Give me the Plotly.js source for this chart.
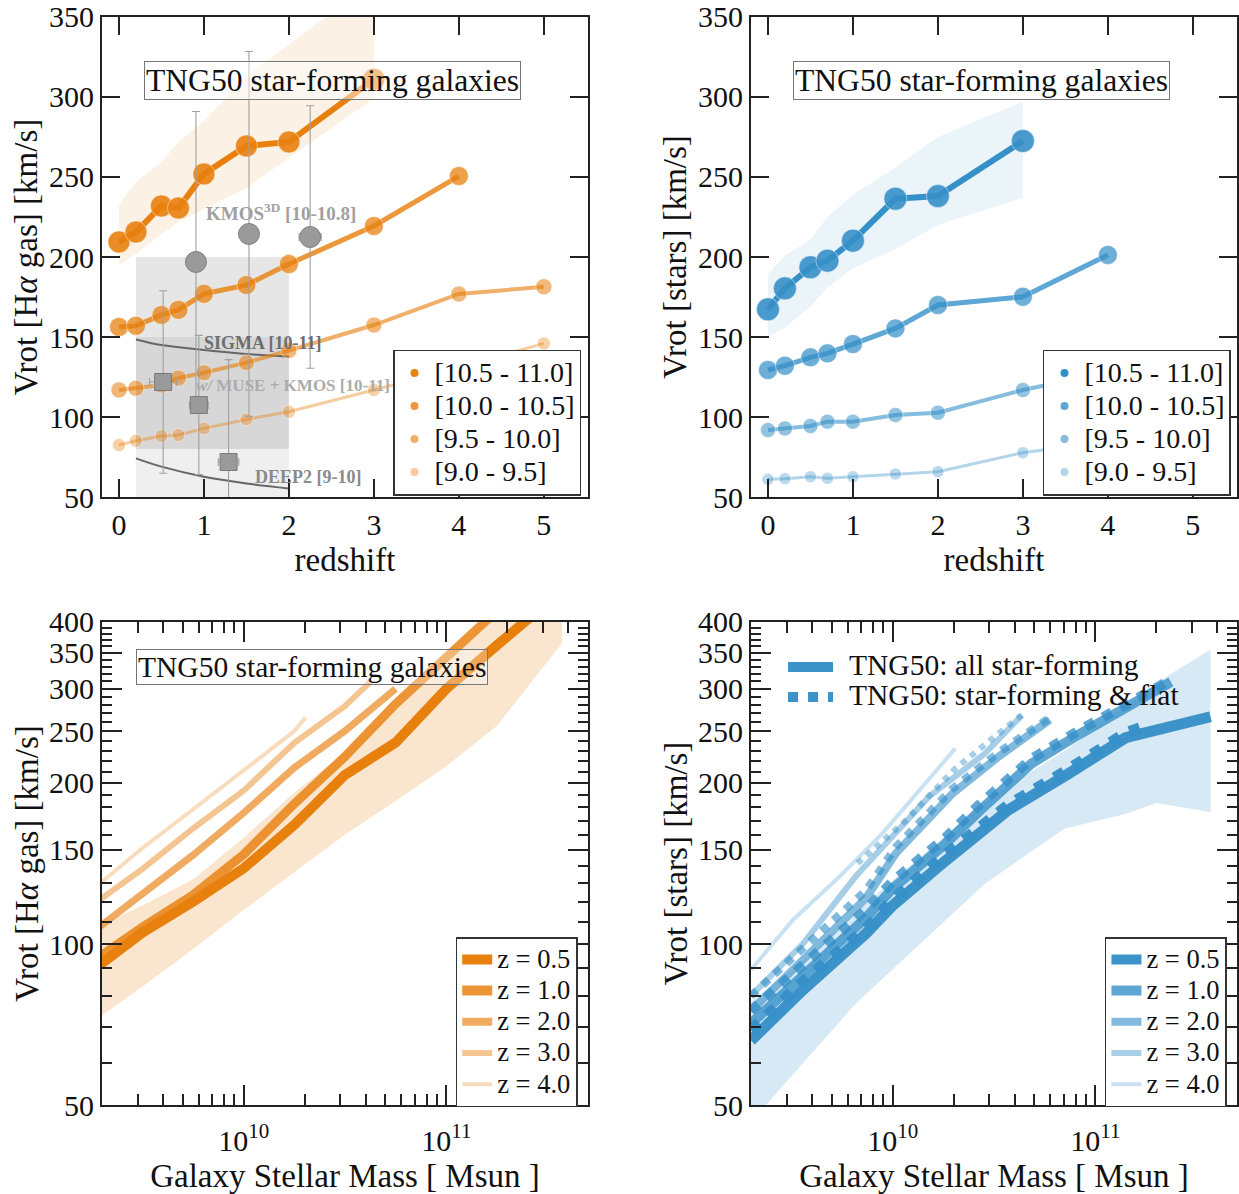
<!DOCTYPE html>
<html>
<head>
<meta charset="utf-8">
<script src="https://cdn.plot.ly/plotly-3.0.1.min.js"></script>
<style>html,body{margin:0;padding:0;background:#fff;} #chart{width:1239px;height:1194px;}</style>
</head>
<body>
<div id="chart"></div>
<script>
// ---------------- DATA ----------------
// Top panels: redshift grid
const redshift = [0, 0.2, 0.5, 0.7, 1, 1.5, 2, 3, 4, 5];
const massBinLabels = ['[10.5 - 11.0]', '[10.0 - 10.5]', '[9.5 - 10.0]', '[9.0 - 9.5]'];

// Top-left: Vrot [Halpha gas] per stellar-mass bin
const gasV_105_110 = [209.4, 215.6, 231.9, 230.6, 251.9, 269.4, 271.9, 311.0, null, null];
const gasV_100_105 = [156.3, 157.0, 163.8, 167.0, 177.0, 182.5, 195.6, 219.4, 250.6, null];
const gasV_95_100  = [116.9, 118.0, 120.0, 124.4, 127.7, 134.0, 141.6, 157.5, 176.9, 181.4];
const gasV_90_95   = [82.5, 85.2, 88.1, 88.8, 92.9, 98.5, 103.3, 116.9, 131.0, 146.0];
const bandZ = [0, 0.2, 0.5, 0.7, 1, 1.5, 2, 3];
const gasBandLow  = [195, 202, 214, 222, 230, 243, 262, 299];
const gasBandHigh = [232.5, 247, 259, 272, 285, 313, 333, 372];

// Top-right: Vrot [stars]
const starV_105_110 = [167.3, 180.4, 193.6, 197.7, 210.2, 236.4, 238.1, 272.5, null, null];
const starV_100_105 = [129.4, 132.1, 137.3, 139.8, 145.6, 155.4, 170.0, 175.2, 201.3, null];
const starV_95_100  = [91.9, 92.9, 94.4, 97.1, 97.1, 101.3, 102.7, 116.9, 128.0, null];
const starV_90_95   = [61.1, 61.5, 62.7, 61.7, 62.7, 64.4, 65.8, 77.7, 85.0, null];
const starBandLow  = [150, 156, 169, 181, 193, 205, 220, 237];
const starBandHigh = [189, 201, 211, 225, 239, 256, 275, 297];

// Observations (top-left)
const kmosZ = [0.906, 1.53, 2.25];
const kmosV = [196.9, 214.4, 212.5];
const kmosErr = [94, 114, 82];
const kmosZErr = [0, 0, 0.13];
const museZ = [0.52, 0.94, 1.29];
const museV = [121.9, 107.5, 71.9];
const museErr = [57, 43.5, 64];
const museZErr = [0.16, 0.11, 0.12];
const sigmaZ = [0.2, 0.5, 1.0, 1.5, 2.0];
const sigmaV = [148.5, 145.0, 141.9, 139.4, 137.7];
const deep2Z = [0.2, 0.5, 1.0, 1.5, 2.0];
const deep2V = [74.2, 69.0, 62.7, 58.5, 55.4];
const sigmaBoxZ = [0.2, 2.0];
const sigmaBoxV = [80, 200];
const deep2BoxZ = [0.2, 2.0];
const deep2BoxV = [40, 150];

// Bottom-left: Vrot [Halpha gas] vs stellar mass, per redshift
const zLabels = ['z = 0.5', 'z = 1.0', 'z = 2.0', 'z = 3.0', 'z = 4.0'];
const gasMass_z05 = [1.78e9, 3.16e9, 5.62e9, 1.0e10, 1.78e10, 3.16e10, 5.62e10, 1.0e11, 1.78e11, 3.16e11];
const gasVrot_z05 = [89, 105, 120, 138.5, 167, 207, 238, 300, 362, 435];
const gasMass_z10 = [1.78e9, 3.16e9, 5.62e9, 1.0e10, 1.78e10, 3.16e10, 5.62e10, 1.0e11, 1.78e11];
const gasVrot_z10 = [92.5, 107.5, 123.5, 147, 183, 224, 281, 344, 420];
const gasMass_z20 = [1.78e9, 3.16e9, 5.62e9, 1.0e10, 1.78e10, 3.16e10, 5.62e10];
const gasVrot_z20 = [105, 123.7, 146.6, 175.8, 213.7, 250.3, 300];
const gasMass_z30 = [1.78e9, 3.16e9, 5.62e9, 1.0e10, 1.78e10, 3.16e10, 4.25e10];
const gasVrot_z30 = [118, 138, 164.4, 193.5, 237.8, 278.5, 310];
const gasMass_z40 = [1.78e9, 3.16e9, 5.62e9, 1.0e10, 1.78e10, 2.02e10];
const gasVrot_z40 = [126, 151, 178.4, 211.4, 250, 265];
const gasBandMass = [2.0e9, 3.16e9, 5.62e9, 1.0e10, 1.78e10, 3.16e10, 5.62e10, 1.0e11, 1.78e11, 3.72e11];
const gasBandMLow  = [73.5, 83.2, 97.8, 115.8, 136.3, 160, 185, 215, 256, 365];
const gasBandMHigh = [109, 118, 132, 158, 192, 228, 275, 335, 410, 520];

// Bottom-right: Vrot [stars] vs stellar mass (all star-forming)
const starMass_z05 = [2.0e9, 3.6e9, 7.4e9, 1.0e10, 1.82e10, 2.71e10, 3.72e10, 7.2e10, 1.41e11, 3.7e11];
const starVrot_z05 = [66, 82, 104.7, 118, 143, 162.4, 178, 207, 243, 266];
const starMass_z10 = [2.0e9, 3.6e9, 7.4e9, 1.0e10, 1.82e10, 2.71e10, 4.85e10, 8.2e10, 1.45e11, 2.36e11];
const starVrot_z10 = [71, 87.5, 112, 127, 154, 178, 217.6, 245.8, 277.6, 309];
const starMass_z20 = [2.0e9, 3.6e9, 7.4e9, 1.04e10, 1.97e10, 3.33e10, 5.97e10];
const starVrot_z20 = [75, 93, 122, 148, 191, 224, 262.6];
const starMass_z30 = [2.0e9, 3.6e9, 6.6e9, 1.51e10, 2.86e10, 4.34e10];
const starVrot_z30 = [80, 100, 134, 188.5, 227.2, 267.7];
const starMass_z40 = [2.0e9, 3.22e9, 5.46e9, 8.9e9, 2.04e10];
const starVrot_z40 = [89.5, 110.9, 133.6, 161, 232.1];
// star-forming & flat
const flatMass_z05 = [2.0e9, 3.6e9, 7.4e9, 1.0e10, 1.82e10, 2.71e10, 3.72e10, 7.2e10, 1.41e11, 1.78e11];
const flatVrot_z05 = [69, 85, 107, 121, 147, 166, 182, 211, 248, 256];
const flatMass_z10 = [2.0e9, 3.6e9, 7.4e9, 1.0e10, 1.82e10, 2.71e10, 4.85e10, 8.2e10, 1.45e11, 2.36e11];
const flatVrot_z10 = [75, 91, 116, 131, 158, 183, 222, 250, 282, 312];
const flatMass_z20 = [2.0e9, 3.6e9, 7.4e9, 1.04e10, 1.97e10, 3.33e10, 5.97e10];
const flatVrot_z20 = [80, 98, 126, 152, 195, 228, 265];
const flatMass_z30 = [6.7e9, 1.14e10, 2.04e10, 2.86e10, 4.34e10];
const flatVrot_z30 = [141.5, 169, 213, 236, 268];
const starBandLowMass = [2.0e9, 2.4e9, 6.6e9, 2.86e10, 7.06e10, 1.41e11, 2.0e11, 3.7e11];
const starBandMLow = [46.5, 50.3, 77.5, 129.8, 164.5, 175, 183.5, 176.6];
const starBandHighMass = [2.0e9, 4.0e9, 7.9e9, 1.58e10, 3.16e10, 7.1e10, 1.41e11, 2.3e11, 3.7e11];
const starBandMHigh = [78, 96, 122, 152, 190, 230, 278, 318, 355];

// Tick values
const redshiftTicks = [0, 1, 2, 3, 4, 5];
const vTicksTop = [50, 100, 150, 200, 250, 300, 350];
const vTicksLog = [50, 100, 150, 200, 250, 300, 350, 400];
const vMinorLog = [60, 70, 80, 90, 110, 120, 130, 140, 160, 170, 180, 190, 210, 220, 230, 240,
  260, 270, 280, 290, 310, 320, 330, 340, 360, 370, 380, 390];
const massTicks = [1e10, 1e11];
const massTickText = ['10<sup>10</sup>', '10<sup>11</sup>'];
const massMinor = [2e9, 3e9, 4e9, 5e9, 6e9, 7e9, 8e9, 9e9, 2e10, 3e10, 4e10, 5e10, 6e10, 7e10, 8e10, 9e10,
  2e11, 3e11, 4e11, 5e11];

// ---------------- STYLE ----------------
const FONT = 'Liberation Serif, Times New Roman, serif';
const ORANGE = [232, 128, 14];
const BLUE = [54, 144, 200];
function rgba(c, a) { return 'rgba(' + c[0] + ',' + c[1] + ',' + c[2] + ',' + a + ')'; }
function span(t, px) { return '<span style="font-size:' + px + 'px">' + t + '</span>'; }
function poly(xl, yl, xh, yh) {
  return { x: xl.concat(xh.slice().reverse()), y: yl.concat(yh.slice().reverse()) };
}

const data = [];

// ---- Top-left ----
(function () {
  const b = poly(bandZ, gasBandLow, bandZ, gasBandHigh);
  data.push({ type: 'scatter', mode: 'lines', x: b.x, y: b.y, xaxis: 'x', yaxis: 'y', fill: 'toself',
    fillcolor: rgba(ORANGE, 0.11), line: { width: 0, color: 'rgba(0,0,0,0)' }, showlegend: false, hoverinfo: 'skip' });
  data.push({ type: 'scatter', mode: 'lines', x: sigmaZ, y: sigmaV, xaxis: 'x', yaxis: 'y',
    line: { color: '#666', width: 2, shape: 'spline' }, showlegend: false });
  data.push({ type: 'scatter', mode: 'lines', x: deep2Z, y: deep2V, xaxis: 'x', yaxis: 'y',
    line: { color: '#666', width: 2, shape: 'spline' }, showlegend: false });
  const series = [gasV_105_110, gasV_100_105, gasV_95_100, gasV_90_95];
  const alphas = [1, 0.82, 0.62, 0.4];
  const lw = [6, 5, 4, 3];
  const ms = [22, 19, 16, 13];
  for (let i = series.length - 1; i >= 0; i--) {
    data.push({ type: 'scatter', mode: 'lines+markers', x: redshift, y: series[i], xaxis: 'x', yaxis: 'y',
      line: { color: rgba(ORANGE, alphas[i]), width: lw[i] },
      marker: { size: ms[i], color: rgba(ORANGE, alphas[i] * 0.9), line: { color: 'rgba(255,255,255,0.45)', width: 1 } },
      showlegend: false });
  }
  data.push({ type: 'scatter', mode: 'markers', x: kmosZ, y: kmosV, xaxis: 'x', yaxis: 'y',
    marker: { size: 21, color: '#9a9a9a', line: { color: '#808080', width: 1 } },
    error_y: { type: 'data', array: kmosErr, color: '#a0a0a0', thickness: 1.1, width: 4 },
    error_x: { type: 'data', array: kmosZErr, color: '#a0a0a0', thickness: 1.1, width: 4 },
    showlegend: false });
  data.push({ type: 'scatter', mode: 'markers', x: museZ, y: museV, xaxis: 'x', yaxis: 'y',
    marker: { size: 17, symbol: 'square', color: '#9a9a9a', line: { color: '#7a7a7a', width: 1 } },
    error_y: { type: 'data', array: museErr, color: '#a0a0a0', thickness: 1.1, width: 4 },
    error_x: { type: 'data', array: museZErr, color: '#a0a0a0', thickness: 1.1, width: 4 },
    showlegend: false });
  for (let i = 0; i < massBinLabels.length; i++) {
    data.push({ type: 'scatter', mode: 'markers', x: [null], y: [null], xaxis: 'x', yaxis: 'y',
      marker: { size: 8, color: rgba(ORANGE, alphas[i]) }, name: span(massBinLabels[i], 28), legend: 'legend' });
  }
})();

// ---- Top-right ----
(function () {
  const b = poly(bandZ, starBandLow, bandZ, starBandHigh);
  data.push({ type: 'scatter', mode: 'lines', x: b.x, y: b.y, xaxis: 'x2', yaxis: 'y2', fill: 'toself',
    fillcolor: rgba(BLUE, 0.1), line: { width: 0, color: 'rgba(0,0,0,0)' }, showlegend: false, hoverinfo: 'skip' });
  const series = [starV_105_110, starV_100_105, starV_95_100, starV_90_95];
  const alphas = [1, 0.8, 0.6, 0.38];
  const lw = [6, 5, 4, 3];
  const ms = [23, 19, 15, 12];
  for (let i = series.length - 1; i >= 0; i--) {
    data.push({ type: 'scatter', mode: 'lines+markers', x: redshift, y: series[i], xaxis: 'x2', yaxis: 'y2',
      line: { color: rgba(BLUE, alphas[i]), width: lw[i] },
      marker: { size: ms[i], color: rgba(BLUE, alphas[i] * 0.9), line: { color: 'rgba(255,255,255,0.45)', width: 1 } },
      showlegend: false });
  }
  for (let i = 0; i < massBinLabels.length; i++) {
    data.push({ type: 'scatter', mode: 'markers', x: [null], y: [null], xaxis: 'x2', yaxis: 'y2',
      marker: { size: 8, color: rgba(BLUE, alphas[i]) }, name: span(massBinLabels[i], 28), legend: 'legend2' });
  }
})();

// ---- Bottom-left ----
(function () {
  const b = poly(gasBandMass, gasBandMLow, gasBandMass, gasBandMHigh);
  data.push({ type: 'scatter', mode: 'lines', x: b.x, y: b.y, xaxis: 'x3', yaxis: 'y3', fill: 'toself',
    fillcolor: rgba(ORANGE, 0.2), line: { width: 0, color: 'rgba(0,0,0,0)' }, showlegend: false, hoverinfo: 'skip' });
  const xs = [gasMass_z05, gasMass_z10, gasMass_z20, gasMass_z30, gasMass_z40];
  const ys = [gasVrot_z05, gasVrot_z10, gasVrot_z20, gasVrot_z30, gasVrot_z40];
  const alphas = [1, 0.83, 0.66, 0.46, 0.28];
  const lw = [10, 9, 7, 6, 4];
  for (let i = xs.length - 1; i >= 0; i--) {
    data.push({ type: 'scatter', mode: 'lines', x: xs[i], y: ys[i], xaxis: 'x3', yaxis: 'y3',
      line: { color: rgba(ORANGE, alphas[i]), width: lw[i] }, showlegend: false });
  }
  const llw = [11, 10, 8, 6, 4];
  for (let i = 0; i < zLabels.length; i++) {
    data.push({ type: 'scatter', mode: 'lines', x: [null], y: [null], xaxis: 'x3', yaxis: 'y3',
      line: { color: rgba(ORANGE, alphas[i]), width: llw[i] }, name: span(zLabels[i], 26.5), legend: 'legend3' });
  }
})();

// ---- Bottom-right ----
(function () {
  const b = poly(starBandLowMass, starBandMLow, starBandHighMass, starBandMHigh);
  data.push({ type: 'scatter', mode: 'lines', x: b.x, y: b.y, xaxis: 'x4', yaxis: 'y4', fill: 'toself',
    fillcolor: rgba(BLUE, 0.2), line: { width: 0, color: 'rgba(0,0,0,0)' }, showlegend: false, hoverinfo: 'skip' });
  const xs = [starMass_z05, starMass_z10, starMass_z20, starMass_z30, starMass_z40];
  const ys = [starVrot_z05, starVrot_z10, starVrot_z20, starVrot_z30, starVrot_z40];
  const fx = [flatMass_z05, flatMass_z10, flatMass_z20, flatMass_z30];
  const fy = [flatVrot_z05, flatVrot_z10, flatVrot_z20, flatVrot_z30];
  const alphas = [0.97, 0.8, 0.62, 0.44, 0.27];
  const lw = [11, 10, 8, 6, 4];
  for (let i = xs.length - 1; i >= 0; i--) {
    data.push({ type: 'scatter', mode: 'lines', x: xs[i], y: ys[i], xaxis: 'x4', yaxis: 'y4',
      line: { color: rgba(BLUE, alphas[i]), width: lw[i] }, showlegend: false });
  }
  for (let i = fx.length - 1; i >= 0; i--) {
    data.push({ type: 'scatter', mode: 'lines', x: fx[i], y: fy[i], xaxis: 'x4', yaxis: 'y4',
      line: { color: rgba(BLUE, alphas[i]), width: lw[i], dash: 'dot' }, showlegend: false });
  }
  const llw = [11, 10, 8, 6, 4];
  for (let i = 0; i < zLabels.length; i++) {
    data.push({ type: 'scatter', mode: 'lines', x: [null], y: [null], xaxis: 'x4', yaxis: 'y4',
      line: { color: rgba(BLUE, alphas[i]), width: llw[i] }, name: span(zLabels[i], 26.5), legend: 'legend4' });
  }
  const gap = '<span style="font-size:44px">&nbsp;</span>';
  data.push({ type: 'scatter', mode: 'lines', x: [null], y: [null], xaxis: 'x4', yaxis: 'y4',
    line: { color: rgba(BLUE, 0.97), width: 12 }, name: gap + span('TNG50: all star-forming', 29.5), legend: 'legend5' });
  data.push({ type: 'scatter', mode: 'lines', x: [null], y: [null], xaxis: 'x4', yaxis: 'y4',
    line: { color: rgba(BLUE, 0.97), width: 11, dash: 'dot' }, name: gap + span('TNG50: star-forming &amp; flat', 29.5), legend: 'legend5' });
})();

// ---------------- LAYOUT ----------------
const DX_L = [0.0823, 0.4746], DX_R = [0.6061, 0.9984];
const DY_T = [0.5837, 0.9858], DY_B = [0.0745, 0.4791];
function axis(extra) {
  return Object.assign({
    showline: true, linecolor: '#222', linewidth: 2, mirror: 'allticks',
    ticks: 'inside', ticklen: 18, tickwidth: 2, tickcolor: '#222',
    showgrid: false, zeroline: false,
    tickfont: { family: FONT, size: 30, color: '#111' }
  }, extra);
}
const titleFont = { family: FONT, size: 33, color: '#111' };
const logY = {
  type: 'log', range: [Math.log10(50), Math.log10(400)], tickmode: 'array', tickvals: vTicksLog,
  ticktext: vTicksLog.map(String), ticklen: 20,
  minor: { tickmode: 'array', tickvals: vMinorLog, ticklen: 10, tickwidth: 2, tickcolor: '#222', ticks: 'inside' }
};
const logX = {
  type: 'log', range: [Math.log10(2e9), Math.log10(5e11)], tickmode: 'array', tickvals: massTicks,
  ticktext: massTickText, ticklen: 20, ticklabelstandoff: 8,
  minor: { tickmode: 'array', tickvals: massMinor, ticklen: 11, tickwidth: 2, tickcolor: '#222', ticks: 'inside' }
};
const legBase = { bgcolor: '#ffffff', bordercolor: '#333', borderwidth: 1.5, xanchor: 'left', yanchor: 'top',
  tracegroupgap: 0, itemclick: false };
function titleBox(x, y, size, bg) {
  return { text: 'TNG50 star-forming galaxies', xref: 'paper', yref: 'paper', x: x, y: y,
    xanchor: 'center', yanchor: 'middle', showarrow: false,
    font: { family: FONT, size: size, color: '#111' }, bordercolor: '#777', borderwidth: 1, borderpad: 1, bgcolor: bg };
}

const layout = {
  width: 1239, height: 1194, margin: { l: 0, r: 0, t: 0, b: 0 },
  paper_bgcolor: '#fff', plot_bgcolor: '#fff', showlegend: true,
  font: { family: FONT, color: '#111' },
  xaxis: axis({ domain: DX_L, anchor: 'y', range: [-0.2, 5.52], tickvals: redshiftTicks,
    title: { text: 'redshift', font: titleFont, standoff: 8 } }),
  yaxis: axis({ domain: DY_T, anchor: 'x', range: [50, 350], tickvals: vTicksTop,
    title: { text: 'Vrot [H<i>α</i> gas] [km/s]', font: titleFont, standoff: 1 } }),
  xaxis2: axis({ domain: DX_R, anchor: 'y2', range: [-0.2, 5.52], tickvals: redshiftTicks,
    title: { text: 'redshift', font: titleFont, standoff: 8 } }),
  yaxis2: axis({ domain: DY_T, anchor: 'x2', range: [50, 350], tickvals: vTicksTop,
    title: { text: 'Vrot [stars] [km/s]', font: titleFont, standoff: 1 } }),
  xaxis3: axis(Object.assign({ domain: DX_L, anchor: 'y3',
    title: { text: 'Galaxy Stellar Mass [ Msun ]', font: titleFont, standoff: 8 } }, logX)),
  yaxis3: axis(Object.assign({ domain: DY_B, anchor: 'x3',
    title: { text: 'Vrot [H<i>α</i> gas] [km/s]', font: titleFont, standoff: 0 } }, logY)),
  xaxis4: axis(Object.assign({ domain: DX_R, anchor: 'y4',
    title: { text: 'Galaxy Stellar Mass [ Msun ]', font: titleFont, standoff: 8 } }, logX)),
  yaxis4: axis(Object.assign({ domain: DY_B, anchor: 'x4',
    title: { text: 'Vrot [stars] [km/s]', font: titleFont, standoff: 0 } }, logY)),
  legend: Object.assign({}, legBase, { x: 0.3172, y: 0.7069, font: { family: FONT, size: 23.1, color: '#111' } }),
  legend2: Object.assign({}, legBase, { x: 0.8418, y: 0.7069, font: { family: FONT, size: 23.1, color: '#111' } }),
  legend3: Object.assign({}, legBase, { x: 0.3678, y: 0.2150, font: { family: FONT, size: 21.7, color: '#111' } }),
  legend4: Object.assign({}, legBase, { x: 0.8918, y: 0.2150, font: { family: FONT, size: 21.7, color: '#111' } }),
  legend5: Object.assign({}, legBase, { x: 0.632, y: 0.4581, bgcolor: 'rgba(0,0,0,0)', borderwidth: 0,
    itemwidth: 45, font: { family: FONT, size: 20.8, color: '#111' } }),
  shapes: [
    { type: 'rect', xref: 'x', yref: 'y', x0: sigmaBoxZ[0], x1: sigmaBoxZ[1], y0: sigmaBoxV[0], y1: sigmaBoxV[1],
      fillcolor: 'rgba(0,0,0,0.098)', line: { width: 0 }, layer: 'below' },
    { type: 'rect', xref: 'x', yref: 'y', x0: deep2BoxZ[0], x1: deep2BoxZ[1], y0: deep2BoxV[0], y1: deep2BoxV[1],
      fillcolor: 'rgba(0,0,0,0.063)', line: { width: 0 }, layer: 'below' }
  ],
  annotations: [
    titleBox(0.268, 0.9326, 31.6, 'rgba(255,255,255,0.45)'),
    titleBox(0.7918, 0.9326, 31.6, 'rgba(255,255,255,0.45)'),
    titleBox(0.2522, 0.4414, 29.5, 'rgba(255,255,255,0.3)'),
    { text: '<b>KMOS<sup>3D</sup> [10-10.8]</b>', xref: 'x', yref: 'y', x: 1.91, y: 228, showarrow: false,
      font: { family: FONT, size: 19, color: '#a0a0a0' } },
    { text: '<b>SIGMA [10-11]</b>', xref: 'x', yref: 'y', x: 1.70, y: 146.3, showarrow: false,
      font: { family: FONT, size: 18, color: '#6e6e6e' } },
    { text: '<b><i>w/</i> MUSE + KMOS [10-11]</b>', xref: 'x', yref: 'y', x: 2.05, y: 120, showarrow: false,
      font: { family: FONT, size: 17, color: '#ababab' } },
    { text: '<b>DEEP2 [9-10]</b>', xref: 'x', yref: 'y', x: 2.235, y: 62.5, showarrow: false,
      font: { family: FONT, size: 18, color: '#8a8a8a' } }
  ]
};

Plotly.newPlot('chart', data, layout, { staticPlot: true });
</script>
</body>
</html>
